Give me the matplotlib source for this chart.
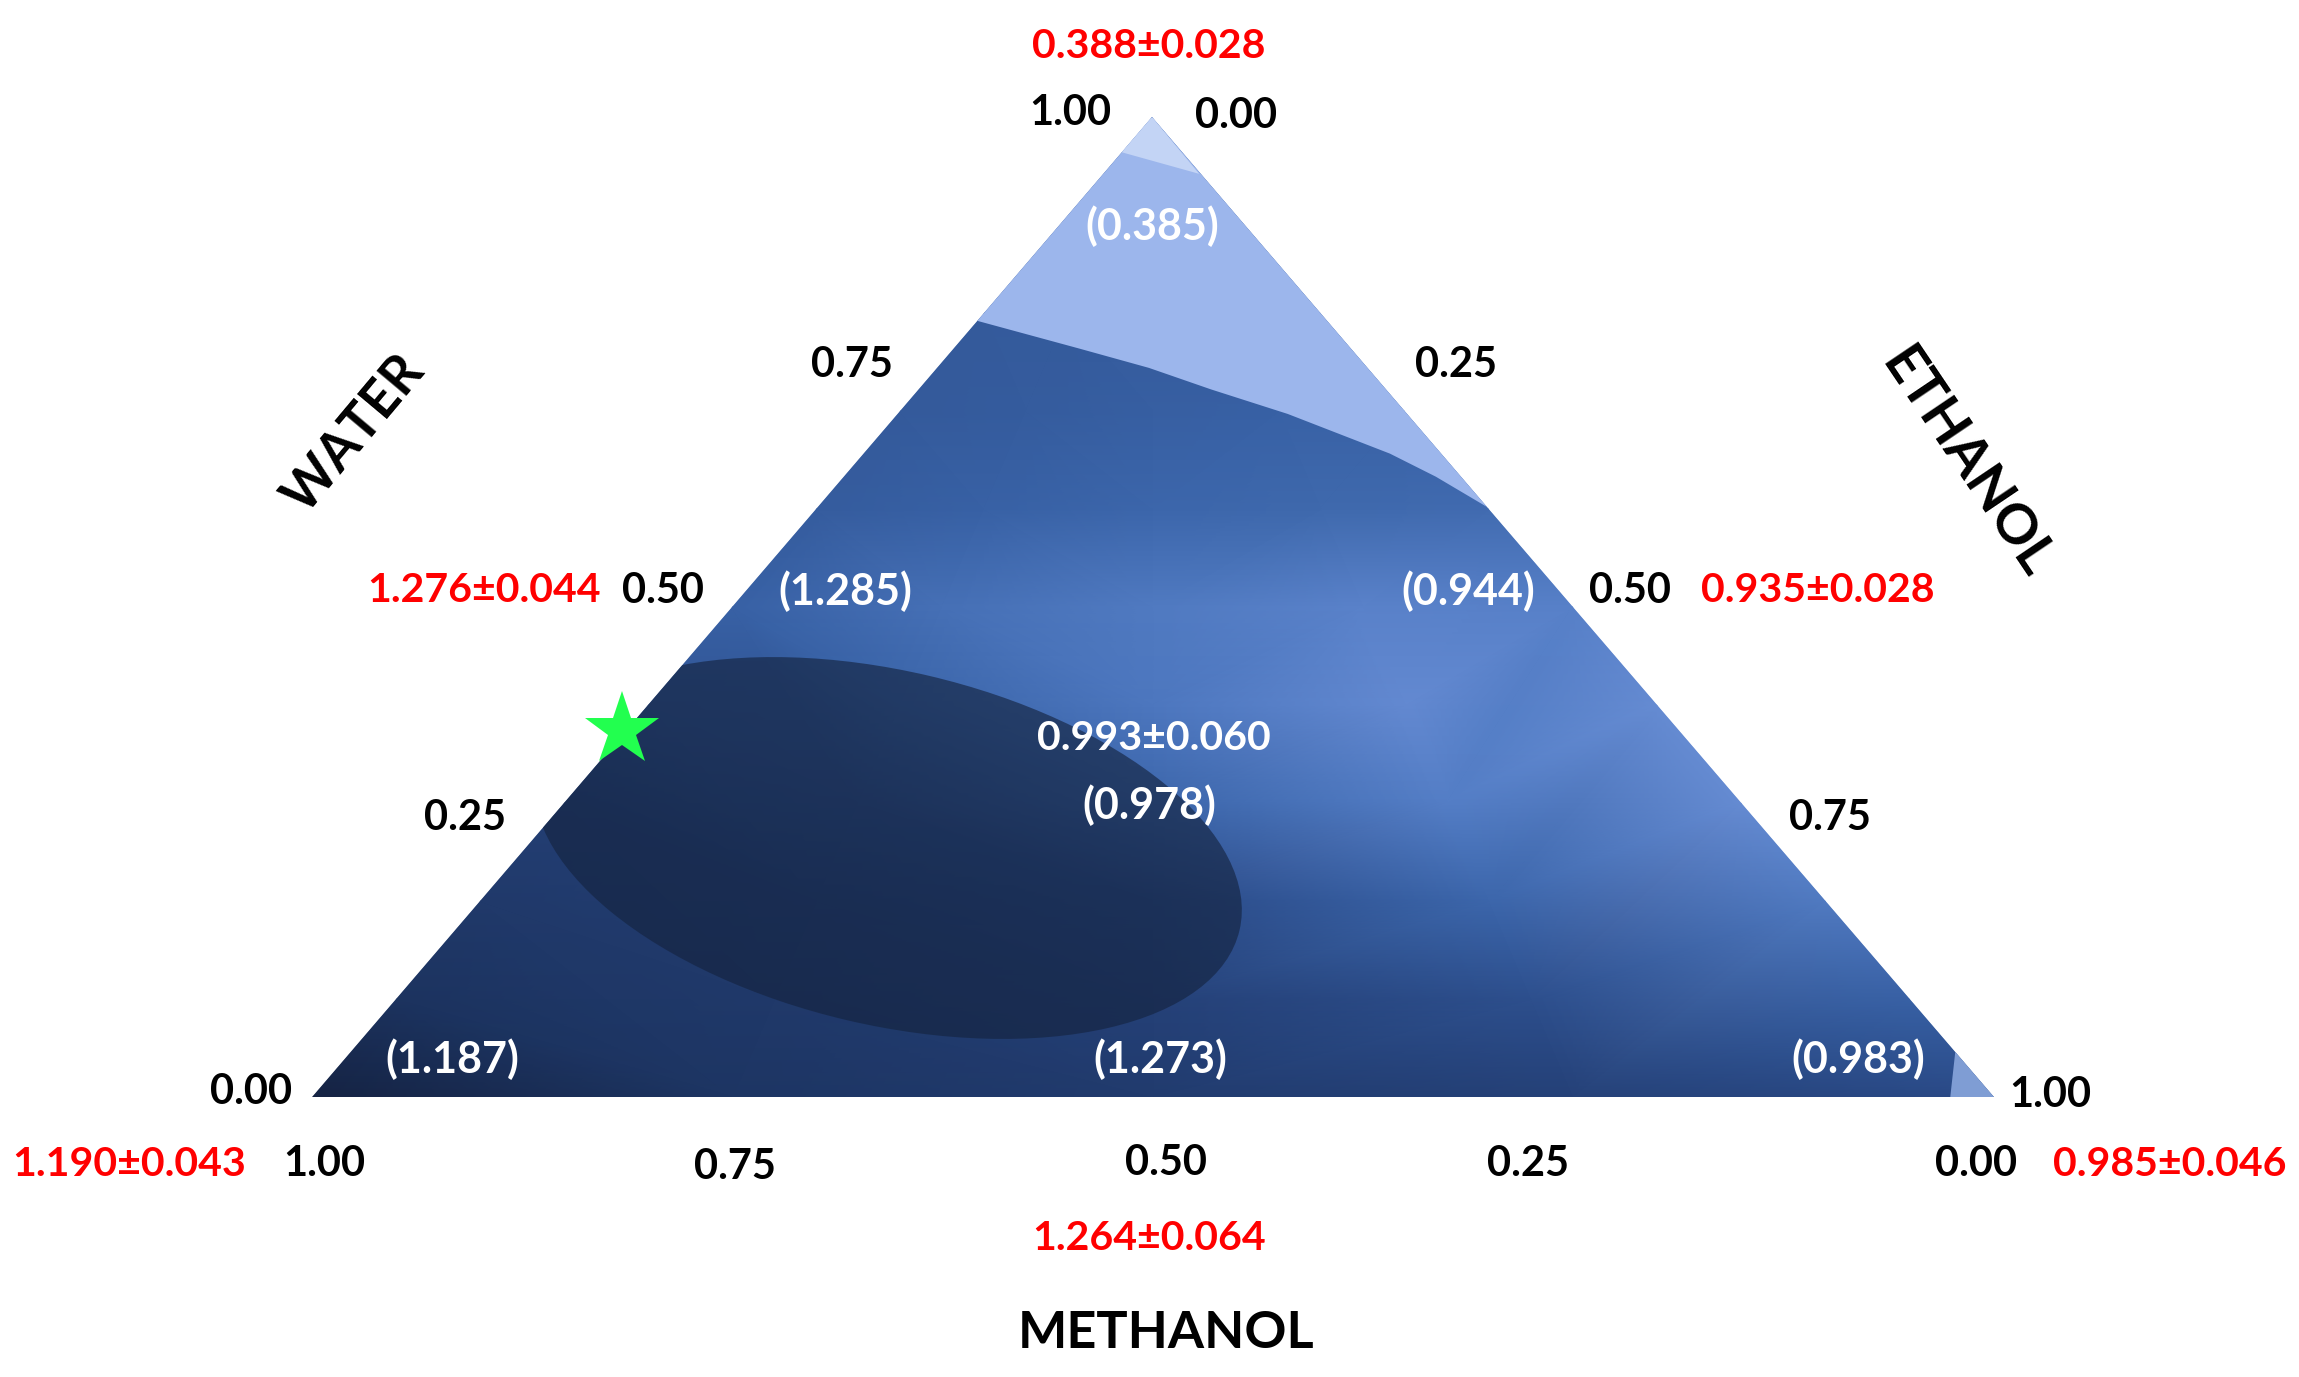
import numpy as np
import matplotlib
matplotlib.use('Agg')
import matplotlib.pyplot as plt
import matplotlib.tri as mtri
from matplotlib.colors import LinearSegmentedColormap
from matplotlib.patches import Ellipse, Polygon

plt.rcParams['font.family'] = ['Lato', 'DejaVu Sans']

# Measured values at the design points and model values in brackets
measured = ['0.388±0.028', '1.276±0.044', '0.935±0.028', '1.190±0.043', '1.264±0.064', '0.985±0.046']
predicted = ['(0.385)', '(1.285)', '(0.944)', '0.993±0.060', '(0.978)', '(1.187)', '(1.273)', '(0.983)']
tick_labels = ['1.00', '0.00', '0.75', '0.25', '0.50', '0.50', '0.25', '0.75',
               '0.00', '1.00', '1.00', '0.75', '0.50', '0.25', '0.00']
axis_names = ['WATER', 'ETHANOL', 'METHANOL']

# Shade, one row per water level, left edge to right edge
water_levels = [0.0, 0.1, 0.2, 0.3, 0.4, 0.5, 0.6, 0.7, 0.8, 1.0]
shade_rows = [
    [0.1, 1.0, 1.3, 1.6, 2.0],
    [0.9, 1.2, 1.6, 2.2, 2.9],
    [1.2, 1.5, 2.0, 3.1, 3.9],
    [1.5, 2.1, 3.1, 4.1, 4.8],
    [2.4, 3.0, 3.8, 4.7, 4.8],
    [2.9, 3.5, 3.9, 4.3, 4.2],
    [2.7, 2.9, 3.1, 3.2, 3.3],
    [2.6, 2.7, 2.8, 2.9, 2.9],
    [2.6, 2.6, 2.6, 2.6, 2.6],
    [2.6, 2.6, 2.6, 2.6, 2.6],
]

# Region borders as (water, ethanol) compositions
light_border = [(0.792, 0.0), (0.764, 0.074), (0.744, 0.126), (0.722, 0.174),
                (0.697, 0.232), (0.6565, 0.313), (0.633, 0.352), (0.602, 0.398)]
tip_border = [(0.964, 0.0), (0.942, 0.057)]
corner_border = [(0.0, 0.974), (0.046, 0.954)]
star_point = (0.375, -0.003)

# Corners of the triangle in picture pixels
LEFT = np.array([312.0, 1097.0])
RIGHT = np.array([1994.0, 1097.0])
TOP = np.array([1152.0, 117.0])


def to_xy(water, ethanol):
    methanol = 1 - water - ethanol
    return water * TOP + ethanol * RIGHT + methanol * LEFT


fig = plt.figure(figsize=(22.99, 13.77), dpi=100)
ax = fig.add_axes([0, 0, 1, 1])
ax.set_xlim(0, 2299)
ax.set_ylim(1377, 0)
ax.axis('off')

triangle = Polygon([LEFT, RIGHT, TOP], closed=True, transform=ax.transData, facecolor='none', edgecolor='none')
ax.add_patch(triangle)

# Smooth blue background
cmap = LinearSegmentedColormap.from_list('blues', ['#14213f', '#1d3563', '#2a4a87', '#3a64a8', '#527cc4', '#6a8fd6'])
xs, ys, zs = [], [], []
for water, row in zip(water_levels, shade_rows):
    for i, shade in enumerate(row):
        ethanol = (1 - water) * i / (len(row) - 1)
        p = to_xy(water, ethanol)
        xs.append(p[0])
        ys.append(p[1])
        zs.append(shade)
mesh = ax.tripcolor(mtri.Triangulation(xs, ys), zs, shading='gouraud', cmap=cmap, vmin=0, vmax=5)
mesh.set_clip_path(triangle)

# Light top region, tip and bottom right corner
light_pts = [to_xy(w, e) for w, e in light_border]
ax.add_patch(Polygon(light_pts + [TOP], closed=True, facecolor='#9cb6ec', edgecolor='none'))
tip_pts = [to_xy(w, e) for w, e in tip_border]
ax.add_patch(Polygon(tip_pts + [TOP], closed=True, facecolor='#c3d4f5', edgecolor='none'))
corner_pts = [to_xy(w, e) for w, e in corner_border]
ax.add_patch(Polygon(corner_pts + [RIGHT], closed=True, facecolor='#7f9dd4', edgecolor='none'))

# Dark optimum region
blob = Ellipse((888, 848), 722, 354, angle=13.15, facecolor='#14233f', edgecolor='none', alpha=0.64)
ax.add_patch(blob)
blob.set_clip_path(triangle)

star = to_xy(*star_point)
ax.plot(star[0], star[1], marker='*', markersize=56, color='#22ff4f', markeredgewidth=0, linestyle='none')

red_pos = [(1149, 47), (484, 591), (1818, 591), (129, 1164), (1149, 1239), (2170, 1164)]
for label, (x, y) in zip(measured, red_pos):
    ax.text(x, y, label, color='#ff0000', fontsize=29.5, fontweight='bold', ha='center', va='center')

white_pos = [(1152, 226), (845, 591), (1468, 591), (1154, 739), (1149, 805), (452, 1059), (1160, 1059), (1858, 1059)]
white_size = [31, 31, 31, 29.5, 31, 31, 31, 31]
for label, (x, y), size in zip(predicted, white_pos, white_size):
    ax.text(x, y, label, color='white', fontsize=size, fontweight='bold', ha='center', va='center')

tick_pos = [(1070, 113), (1236, 116), (852, 365), (1456, 365), (663, 591), (1630, 591), (465, 818), (1830, 818),
            (251, 1092), (2050, 1095), (324, 1164), (735, 1167), (1166, 1163), (1528, 1164), (1976, 1164)]
for label, (x, y) in zip(tick_labels, tick_pos):
    ax.text(x, y, label, color='black', fontsize=30, fontweight='bold', ha='center', va='center')

name_pos = [(354, 434), (1966, 463), (1166, 1333)]
name_rot = [50, -56, 0]
name_size = [38, 40, 37.5]
for label, (x, y), rot, size in zip(axis_names, name_pos, name_rot, name_size):
    ax.text(x, y, label, color='black', fontsize=size, fontweight='bold', ha='center', va='center',
            rotation=rot, rotation_mode='anchor')

fig.savefig('out.png', dpi=100)
